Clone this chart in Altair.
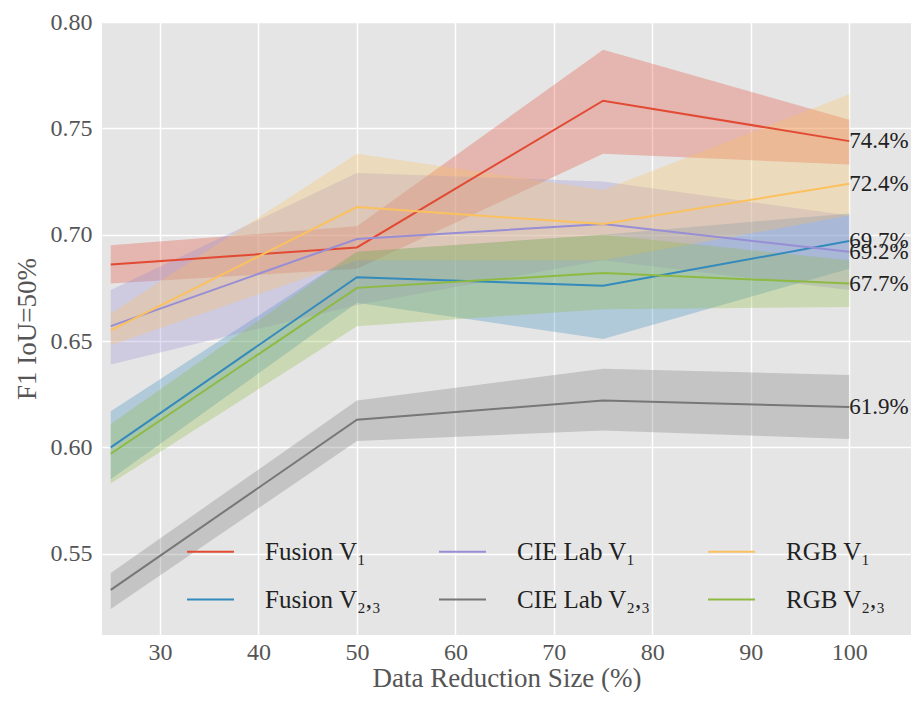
import altair as alt
import pandas as pd

sizes = [25, 50, 75, 100]

series_names = ["Fusion V₁", "Fusion V₂,₃", "CIE Lab V₁", "CIE Lab V₂,₃", "RGB V₁", "RGB V₂,₃"]
series_colors = ["#E24A33", "#348ABD", "#988ED5", "#777777", "#FBC15E", "#8EBA42"]

fusion_v1_mean = [0.686, 0.694, 0.763, 0.744]
fusion_v1_lo = [0.677, 0.684, 0.738, 0.733]
fusion_v1_hi = [0.695, 0.704, 0.787, 0.754]

fusion_v23_mean = [0.600, 0.680, 0.676, 0.697]
fusion_v23_lo = [0.585, 0.668, 0.651, 0.684]
fusion_v23_hi = [0.617, 0.692, 0.700, 0.710]

cie_v1_mean = [0.657, 0.698, 0.705, 0.692]
cie_v1_lo = [0.639, 0.667, 0.688, 0.674]
cie_v1_hi = [0.674, 0.729, 0.725, 0.709]

cie_v23_mean = [0.533, 0.613, 0.622, 0.619]
cie_v23_lo = [0.524, 0.603, 0.608, 0.604]
cie_v23_hi = [0.541, 0.622, 0.637, 0.634]

rgb_v1_mean = [0.655, 0.713, 0.705, 0.724]
rgb_v1_lo = [0.648, 0.688, 0.688, 0.709]
rgb_v1_hi = [0.663, 0.738, 0.721, 0.766]

rgb_v23_mean = [0.597, 0.675, 0.682, 0.677]
rgb_v23_lo = [0.583, 0.657, 0.665, 0.666]
rgb_v23_hi = [0.611, 0.692, 0.700, 0.688]

means = [fusion_v1_mean, fusion_v23_mean, cie_v1_mean, cie_v23_mean, rgb_v1_mean, rgb_v23_mean]
los = [fusion_v1_lo, fusion_v23_lo, cie_v1_lo, cie_v23_lo, rgb_v1_lo, rgb_v23_lo]
his = [fusion_v1_hi, fusion_v23_hi, cie_v1_hi, cie_v23_hi, rgb_v1_hi, rgb_v23_hi]

rows = []
for i, name in enumerate(series_names):
    for j, s in enumerate(sizes):
        rows.append({"series": name, "order": i, "size": s,
                     "mean": means[i][j], "lo": los[i][j], "hi": his[i][j]})
df = pd.DataFrame(rows)
last = df[df["size"] == sizes[-1]].copy()

FONT = "Liberation Serif"

x_scale = alt.Scale(domain=[24.11, 106.27], nice=False, zero=False)
y_scale = alt.Scale(domain=[0.5118, 0.8], nice=False, zero=False)

x_enc = alt.X("size:Q", scale=x_scale,
              axis=alt.Axis(values=[30, 40, 50, 60, 70, 80, 90, 100], title="Data Reduction Size (%)"))

bands = alt.Chart(df).mark_area(opacity=0.3).encode(
    x=x_enc,
    y=alt.Y("lo:Q", scale=y_scale,
            axis=alt.Axis(values=[0.55, 0.60, 0.65, 0.70, 0.75, 0.80], format=".2f", title="F1 IoU=50%")),
    y2="hi:Q",
    color=alt.Color("series:N", scale=alt.Scale(domain=series_names, range=series_colors), legend=None),
    detail="order:O",
)

lines = alt.Chart(df).mark_line(strokeWidth=2).encode(
    x=x_enc,
    y=alt.Y("mean:Q", scale=y_scale),
    color=alt.Color("series:N", scale=alt.Scale(domain=series_names, range=series_colors),
                    legend=alt.Legend(title=None, orient="none", legendX=84, legendY=505,
                                      columns=3, symbolType="stroke", symbolSize=2209,
                                      symbolStrokeWidth=2, labelFont=FONT, labelFontSize=25,
                                      labelColor="#222", labelOffset=30, columnPadding=53,
                                      rowPadding=10, padding=0, labelLimit=300)),
    order="order:O",
)

labels = alt.Chart(last).mark_text(align="left", baseline="middle", font=FONT, fontSize=23,
                                   color="#222").encode(
    x=alt.X("size:Q", scale=x_scale),
    y=alt.Y("mean:Q", scale=y_scale),
    text=alt.Text("mean:Q", format=".1%"),
)

chart = alt.layer(bands, lines, labels).resolve_scale(color="independent").properties(
    width=809, height=613,
    autosize=alt.AutoSizeParams(type="none"),
    padding={"left": 94, "top": 14, "right": 0, "bottom": 57},
    background="white",
).configure_view(
    fill="#E5E5E5", stroke=None
).configure_axis(
    grid=True, gridColor="white", gridWidth=1.5, domain=False, ticks=False,
    labelFont=FONT, labelFontSize=24, labelColor="#555",
    titleFont=FONT, titleFontSize=27, titleColor="#555", titleFontWeight="normal",
).configure_axisX(labelPadding=5, titlePadding=1).configure_axisY(labelPadding=10, titlePadding=9)

chart.save("out.html", embed_options={"renderer": "svg", "actions": False})
